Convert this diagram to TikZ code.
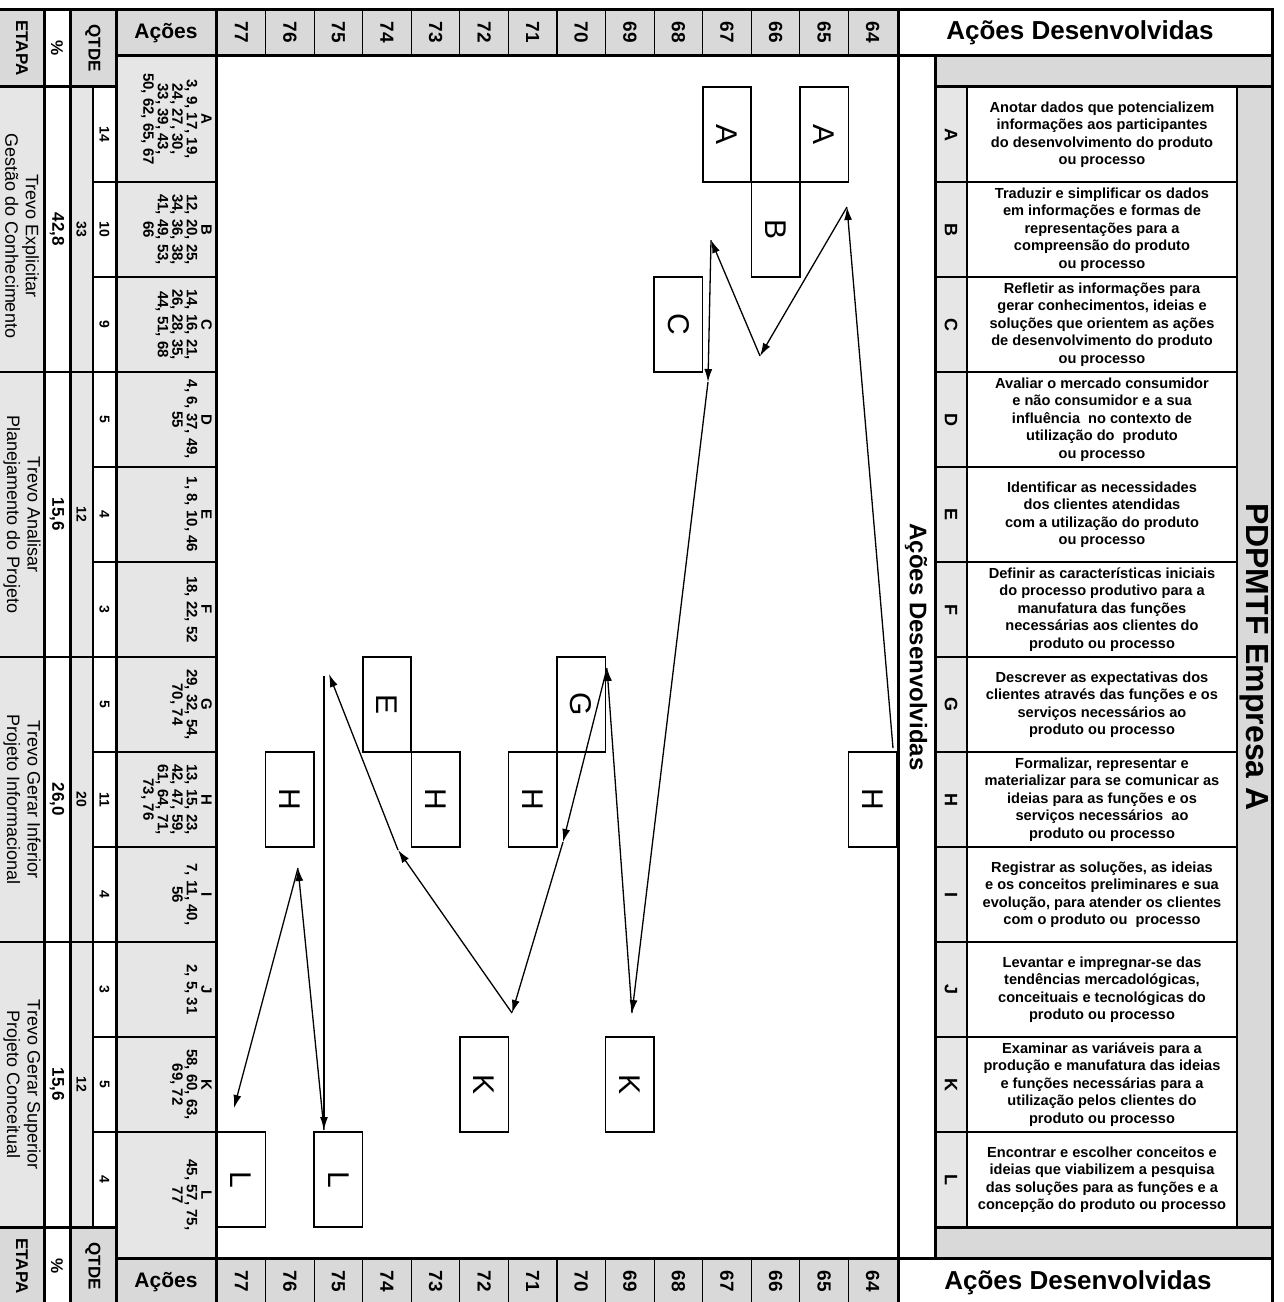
\documentclass[tikz,border=0pt]{standalone}
\usepackage{fontspec}
\setmainfont{Liberation Sans}
\usepackage{graphicx}
\usetikzlibrary{arrows.meta}
\definecolor{hgray}{HTML}{D9D9D9}
\definecolor{cgray}{HTML}{E6E6E6}
\begin{document}
\begin{tikzpicture}[x=1pt,y=-1pt,
  thk/.style={line width=3pt},
  med/.style={line width=2pt},
  thn/.style={line width=1.2pt},
  rtxt/.style={rotate=-90,align=center,inner sep=0pt},
  hnum/.style={rtxt,font=\bfseries\fontsize{19}{19}\selectfont},
  hsml/.style={rtxt,font=\bfseries\fontsize{17}{17}\selectfont},
  qtd/.style={rtxt,font=\bfseries\fontsize{14}{14}\selectfont},
  cellt/.style={rtxt,font=\bfseries\fontsize{15}{14.5}\selectfont,anchor=north},
  desc/.style={align=center,inner sep=0pt,font=\bfseries\fontsize{14.6}{17.5}\selectfont},
  lett/.style={rtxt,font=\bfseries\fontsize{18}{18}\selectfont},
  etapa/.style={rtxt,font=\fontsize{18}{20.5}\selectfont},
  htxt/.style={inner sep=0pt,font=\bfseries\fontsize{21}{21}\selectfont},
  bigh/.style={inner sep=0pt,font=\bfseries\fontsize{26}{26}\selectfont},
  pbox/.style={draw,line width=1.6pt,fill=white,minimum width=48.57pt,minimum height=95pt,inner sep=0pt,font=\fontsize{30}{30}\selectfont},
  arr/.style={line width=1.3pt,-{Latex[length=13pt,width=8pt]}},
]
\useasboundingbox (0,0) rectangle (1284,1302);
% ---------- fills
\fill[cgray] (0,86.5) rectangle (43.5,1227.5);
\fill[hgray] (0,9.5) rectangle (43.5,86.5);
\fill[hgray] (0,1227.5) rectangle (43.5,1302);
\fill[hgray] (70,9.5) rectangle (116,86.5);
\fill[cgray] (70,86.5) rectangle (93,1227.5);
\fill[hgray] (70,1227.5) rectangle (116,1302);
\fill[hgray] (116,9.5) rectangle (216,55.5);
\fill[cgray] (116,55.5) rectangle (216,1258.5);
\fill[hgray] (116,1258.5) rectangle (216,1302);
\fill[hgray] (216,9.5) rectangle (898,55.5);
\fill[hgray] (216,1258.5) rectangle (898,1302);
\fill[hgray] (935,55.5) rectangle (1272,86.5);
\fill[cgray] (935,86.5) rectangle (967,1227.5);
\fill[hgray] (1237,86.5) rectangle (1272,1227.5);
\fill[hgray] (935,1227.5) rectangle (1272,1258.5);
% ---------- lines
\draw[thk] (0,9.5) -- (1273.5,9.5);
\foreach \lx in {44,70,116,216,898,1272} {\draw[thk] (\lx,9.5) -- (\lx,1302);}
\draw[thk] (935,55.5) -- (935,1258.5);
\draw[thk] (116,55.5) -- (1272,55.5);
\draw[thk] (0,86.5) -- (116,86.5);
\draw[thk] (935,86.5) -- (1272,86.5);
\draw[thk] (0,1227.5) -- (116,1227.5);
\draw[thk] (935,1227.5) -- (1272,1227.5);
\draw[thk] (116,1258.5) -- (1272,1258.5);
\draw[thn] (93,86.5) -- (93,1227.5);
\draw[med] (967,86.5) -- (967,1227.5);
\draw[med] (1237,86.5) -- (1237,1227.5);
\foreach \k in {1,...,13} {
  \pgfmathsetmacro\lx{217+\k*48.57}
  \draw[thn] (\lx,9.5) -- (\lx,55.5);
  \draw[thn] (\lx,1258.5) -- (\lx,1302);
}
\foreach \i in {1,...,11} {
  \pgfmathsetmacro\ry{87+\i*95}
  \draw[med] (93,\ry) -- (216,\ry);
  \draw[line width=2.5pt] (935,\ry) -- (1237,\ry);
}
\foreach \i in {3,6,9} {
  \pgfmathsetmacro\ry{87+\i*95}
  \draw[med] (0,\ry) -- (93,\ry);
}
% ---------- headers
\node[hsml] (hEt) at (22,48) {ETAPA};
\node[hsml] (hPc) at (57,48) {\%};
\node[hsml] (hQt) at (93,48) {QTDE};
\node[htxt] (hAc) at (166,33) {Ações};
\node[hsml] (bEt) at (22,1266) {ETAPA};
\node[hsml] (bPc) at (57,1266) {\%};
\node[hsml] (bQt) at (93,1266) {QTDE};
\node[htxt] (bAc) at (166,1282) {Ações};
\foreach \n [count=\k from 0] in {77,76,...,64} {
  \pgfmathsetmacro\cx{217+(\k+0.5)*48.57}
  \node[hnum] (nt\n) at (\cx,32.5) {\n};
  \node[hnum] (nb\n) at (\cx,1281) {\n};
}
\node[bigh] (hAD) at (1080,33) {Ações Desenvolvidas};
\node[bigh] (bAD) at (1078,1283) {Ações Desenvolvidas};
\node[rtxt,font=\bfseries\fontsize{24}{24}\selectfont] (vAD) at (916,647) {Ações Desenvolvidas};
\node[rtxt,font=\bfseries\fontsize{32}{32}\selectfont] (ttl) at (1254,657) {PDPMTF Empresa A};
% ---------- etapa / % / qtde
\node[etapa] (et1) at (22,236) {Trevo Explicitar\\Gestão do Conhecimento};
\node[etapa] (et2) at (22,514.5) {Trevo Analisar\\Planejamento do Projeto};
\node[etapa] (et3) at (22,799.5) {Trevo Gerar Inferior\\Projeto Informacional};
\node[etapa] (et4) at (22,1084.5) {Trevo Gerar Superior\\Projeto Conceitual};
\node[hsml] (pc1) at (57,229.5) {42,8};
\node[hsml] (pc2) at (57,514.5) {15,6};
\node[hsml] (pc3) at (57,799.5) {26,0};
\node[hsml] (pc4) at (57,1084.5) {15,6};
\node[qtd] (qt1) at (81.5,229.5) {33};
\node[qtd] (qt2) at (81.5,514.5) {12};
\node[qtd] (qt3) at (81.5,799.5) {20};
\node[qtd] (qt4) at (81.5,1084.5) {12};
\foreach \q [count=\i from 0] in {14,10,9,5,4,3,5,11,4,3,5,4} {
  \node[qtd] (qr\i) at (104.5,134.5+\i*95) {\q};
}
% ---------- acoes cells
\node[cellt] (cA) at (212,119) {A\\3, 9, 17, 19,\\24, 27, 30,\\33, 39, 43,\\50, 62, 65, 67};
\node[cellt] (cB) at (212,229.5) {B\\12, 20, 25,\\34, 36, 38,\\41, 49, 53,\\66};
\node[cellt] (cC) at (212,324.5) {C\\14, 16, 21,\\26, 28, 35,\\44, 51, 68};
\node[cellt] (cD) at (212,419.5) {D\\4, 6, 37, 49,\\55};
\node[cellt] (cE) at (212,514.5) {E\\1, 8, 10, 46};
\node[cellt] (cF) at (212,609.5) {F\\18, 22, 52};
\node[cellt] (cG) at (212,704.5) {G\\29, 32, 54,\\70, 74};
\node[cellt] (cH) at (212,799.5) {H\\13, 15, 23,\\42, 47, 59,\\61, 64, 71,\\73, 76};
\node[cellt] (cI) at (212,894.5) {I\\7, 11, 40,\\56};
\node[cellt] (cJ) at (212,989.5) {J\\2, 5, 31};
\node[cellt] (cK) at (212,1084.5) {K\\58, 60, 63,\\69, 72};
\node[cellt] (cL) at (212,1195) {L\\45, 57, 75,\\77};
% ---------- right side
\foreach \l [count=\i from 0] in {A,B,C,D,E,F,G,H,I,J,K,L} {
  \node[lett] (rl\l) at (951,134.5+\i*95) {\l};
}
\node[desc] (dA) at (1102,134.5) {Anotar dados que potencializem\\informações aos participantes\\do desenvolvimento do produto\\ou processo};
\node[desc] (dB) at (1102,229.5) {Traduzir e simplificar os dados\\em informações e formas de\\representações para a\\compreensão do produto\\ou processo};
\node[desc] (dC) at (1102,324.5) {Refletir as informações para\\gerar conhecimentos, ideias e\\soluções que orientem as ações\\de desenvolvimento do produto\\ou processo};
\node[desc] (dD) at (1102,419.5) {Avaliar o mercado consumidor\\e não consumidor e a sua\\influência\ \ no contexto de\\utilização do\ \ produto\\ou processo};
\node[desc] (dE) at (1102,514.5) {Identificar as necessidades\\dos clientes atendidas\\com a utilização do produto\\ou processo};
\node[desc] (dF) at (1102,609.5) {Definir as características iniciais\\do processo produtivo para a\\manufatura das funções\\necessárias aos clientes do\\produto ou processo};
\node[desc] (dG) at (1102,704.5) {Descrever as expectativas dos\\clientes através das funções e os\\serviços necessários ao\\produto ou processo};
\node[desc] (dH) at (1102,799.5) {Formalizar, representar e\\materializar para se comunicar as\\ideias para as funções e os\\serviços necessários\ \ ao\\produto ou processo};
\node[desc] (dI) at (1102,894.5) {Registrar as soluções, as ideias\\e os conceitos preliminares e sua\\evolução, para atender os clientes\\com o produto ou\ \ processo};
\node[desc] (dJ) at (1102,989.5) {Levantar e impregnar-se das\\tendências mercadológicas,\\conceituais e tecnológicas do\\produto ou processo};
\node[desc] (dK) at (1102,1084.5) {Examinar as variáveis para a\\produção e manufatura das ideias\\e funções necessárias para a\\utilização pelos clientes do\\produto ou processo};
\node[desc] (dL) at (1102,1179.5) {Encontrar e escolher conceitos e\\ideias que viabilizem a pesquisa\\das soluções para as funções e a\\concepção do produto ou processo};
% ---------- boxes
\node[pbox] (bA65) at (824.1,134.5) {\rotatebox{-90}{A}};
\node[pbox] (bA67) at (727.0,134.5) {\rotatebox{-90}{A}};
\node[pbox] (bB66) at (775.6,229.5) {\rotatebox{-90}{B}};
\node[pbox] (bC68) at (678.4,324.5) {\rotatebox{-90}{C}};
\node[pbox] (bH64) at (872.7,799.5) {\rotatebox{-90}{H}};
\node[pbox] (bG70) at (581.3,704.5) {\rotatebox{-90}{G}};
\node[pbox] (bH71) at (532.7,799.5) {\rotatebox{-90}{H}};
\node[pbox] (bH73) at (435.6,799.5) {\rotatebox{-90}{H}};
\node[pbox] (bE74) at (387.0,704.5) {\rotatebox{-90}{E}};
\node[pbox] (bH76) at (289.9,799.5) {\rotatebox{-90}{H}};
\node[pbox] (bK72) at (484.1,1084.5) {\rotatebox{-90}{K}};
\node[pbox] (bK69) at (629.8,1084.5) {\rotatebox{-90}{K}};
\node[pbox] (bL77) at (241.3,1179.5) {\rotatebox{-90}{L}};
\node[pbox] (bL75) at (338.4,1179.5) {\rotatebox{-90}{L}};
% ---------- arrows
\coordinate (p1) at (893,748);
\coordinate (p2) at (847,207);
\coordinate (p3) at (760,356);
\coordinate (p4) at (711,240);
\coordinate (p5) at (708,382);
\coordinate (p6) at (632,1013);
\coordinate (p7) at (607,668);
\coordinate (p8) at (563,842);
\coordinate (p9) at (512,1013);
\coordinate (p10) at (398,850);
\coordinate (p11) at (329,674);
\coordinate (p11b) at (324,676);
\coordinate (p12) at (324,1130);
\coordinate (p13) at (298,868);
\coordinate (p14) at (234,1108);
\draw[arr] (p1) -- (p2);
\draw[arr] (p2) -- (p3);
\draw[arr] (p3) -- (p4);
\draw[arr] (p4) -- (p5);
\draw[arr] (p5) -- (p6);
\draw[arr] (p6) -- (p7);
\draw[arr] (p7) -- (p8);
\draw[arr] (p8) -- (p9);
\draw[arr] (p9) -- (p10);
\draw[arr] (p10) -- (p11);
\draw[arr] (p11b) -- (p12);
\draw[arr] (p12) -- (p13);
\draw[arr] (p13) -- (p14);
\end{tikzpicture}
\end{document}
